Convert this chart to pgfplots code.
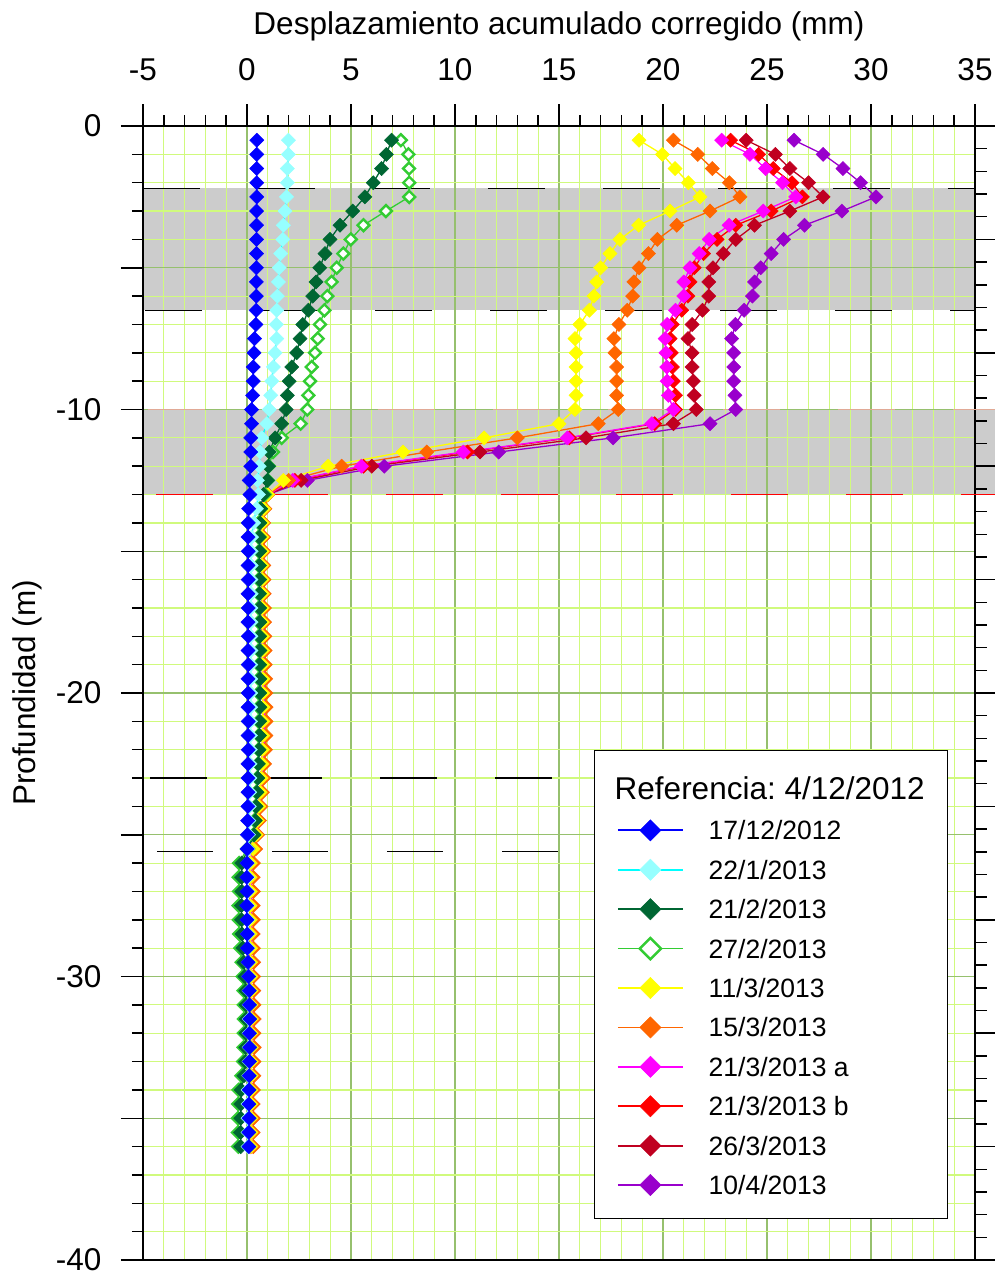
\documentclass[border=0pt]{standalone}
\usepackage{fontspec}
\setmainfont{Liberation Sans}
\usepackage{pgfplots}
\usepackage{pgfplotstable}
\pgfplotsset{compat=1.18}

\definecolor{cBlue}{RGB}{0,0,255}
\definecolor{cCyan}{RGB}{150,255,255}
\definecolor{cCyanL}{RGB}{0,255,255}
\definecolor{cDGreen}{RGB}{0,102,51}
\definecolor{cLGreen}{RGB}{51,204,51}
\definecolor{cYellow}{RGB}{255,255,0}
\definecolor{cOrange}{RGB}{255,102,0}
\definecolor{cMagenta}{RGB}{255,0,255}
\definecolor{cRed}{RGB}{255,0,0}
\definecolor{cDRed}{RGB}{192,0,32}
\definecolor{cPurple}{RGB}{153,0,204}
\definecolor{gridMinor}{RGB}{208,250,125}
\definecolor{gridMajor}{RGB}{150,192,110}
\definecolor{bandGray}{RGB}{204,204,204}
\definecolor{bandTan}{RGB}{225,170,150}

\pgfplotstableread{
d b c dg lg y o m r dr p
-0.5 0.47 1.99 6.95 7.40 18.85 20.50 22.82 23.25 24.00 26.30
-1.0 0.47 1.99 6.70 7.76 19.97 21.67 24.18 24.60 25.40 27.70
-1.5 0.47 1.94 6.47 7.79 20.58 22.37 24.93 25.30 26.10 28.65
-2.0 0.47 1.94 6.07 7.80 21.22 23.19 25.75 26.20 27.00 29.50
-2.5 0.47 1.90 5.67 7.80 21.78 23.70 26.38 26.70 27.70 30.24
-3.0 0.46 1.83 5.08 6.68 20.34 22.26 24.82 25.20 26.10 28.60
-3.5 0.46 1.75 4.47 5.60 18.83 20.66 23.18 23.50 24.40 26.80
-4.0 0.46 1.72 3.99 4.99 17.93 19.73 22.22 22.60 23.50 25.80
-4.5 0.46 1.62 3.75 4.63 17.45 19.30 21.74 21.95 22.90 25.20
-5.0 0.45 1.55 3.50 4.31 17.00 18.85 21.30 21.50 22.40 24.70
-5.5 0.45 1.51 3.32 4.07 16.81 18.60 21.00 21.30 22.20 24.40
-6.0 0.45 1.46 3.16 3.86 16.68 18.54 21.00 21.20 22.20 24.30
-6.5 0.44 1.43 2.95 3.72 16.46 18.28 20.60 20.90 21.90 23.90
-7.0 0.43 1.41 2.68 3.51 16.00 17.88 20.20 20.45 21.40 23.48
-7.5 0.36 1.43 2.55 3.40 15.77 17.64 20.10 20.34 21.20 23.30
-8.0 0.34 1.35 2.39 3.27 15.82 17.69 20.14 20.40 21.40 23.40
-8.5 0.30 1.27 2.15 3.11 15.82 17.77 20.18 20.45 21.40 23.40
-9.0 0.30 1.19 2.03 3.03 15.82 17.77 20.20 20.50 21.46 23.40
-9.5 0.27 1.14 1.94 2.95 15.82 17.77 20.26 20.60 21.50 23.46
-10.0 0.22 1.07 1.88 2.90 15.77 17.85 20.50 20.60 21.60 23.50
-10.5 0.22 0.95 1.67 2.58 15.00 16.89 19.46 19.60 20.50 22.26
-11.0 0.18 0.71 1.35 1.67 11.40 13.00 15.40 15.50 16.30 17.60
-11.5 0.18 0.63 1.07 1.25 7.50 8.64 10.40 10.60 11.20 12.10
-12.0 0.18 0.59 1.03 1.05 3.90 4.55 5.50 5.60 6.00 6.60
-12.5 0.11 0.50 0.98 1.00 1.75 2.00 2.20 2.30 2.60 2.90
-13.0 0.14 0.55 0.79 0.85 1.00 1.00 1.00 1.00 1.00 1.00
-13.5 0.08 0.45 0.66 0.62 0.80 0.86 0.82 0.80 0.78 0.76
-14.0 0.06 0.32 0.62 0.56 0.74 0.80 0.78 0.76 0.74 0.72
-14.5 0.05 0.22 0.60 0.55 0.72 0.80 0.78 0.76 0.73 0.71
-15.0 0.06 0.20 0.61 0.56 0.73 0.82 0.79 0.77 0.74 0.72
-15.5 0.05 0.20 0.60 0.55 0.72 0.81 0.78 0.76 0.73 0.71
-16.0 0.06 0.19 0.61 0.55 0.73 0.82 0.79 0.77 0.74 0.72
-16.5 0.05 0.20 0.60 0.56 0.74 0.83 0.80 0.78 0.75 0.73
-17.0 0.06 0.19 0.61 0.55 0.73 0.84 0.80 0.77 0.75 0.72
-17.5 0.05 0.20 0.62 0.56 0.74 0.85 0.81 0.78 0.76 0.73
-18.0 0.06 0.19 0.61 0.55 0.74 0.86 0.81 0.78 0.76 0.73
-18.5 0.05 0.19 0.62 0.56 0.75 0.87 0.82 0.79 0.77 0.74
-19.0 0.06 0.18 0.61 0.55 0.75 0.88 0.82 0.79 0.77 0.74
-19.5 0.05 0.18 0.62 0.56 0.76 0.90 0.83 0.80 0.78 0.75
-20.0 0.06 0.18 0.61 0.55 0.76 0.91 0.83 0.80 0.78 0.75
-20.5 0.05 0.18 0.62 0.56 0.77 0.92 0.84 0.81 0.79 0.76
-21.0 0.06 0.17 0.61 0.55 0.76 0.92 0.84 0.81 0.78 0.76
-21.5 0.05 0.17 0.60 0.55 0.76 0.91 0.83 0.80 0.78 0.75
-22.0 0.06 0.16 0.58 0.54 0.74 0.89 0.82 0.79 0.77 0.74
-22.5 0.05 0.15 0.55 0.52 0.72 0.85 0.79 0.77 0.75 0.72
-23.0 0.05 0.14 0.52 0.48 0.68 0.80 0.75 0.73 0.71 0.69
-23.5 0.05 0.13 0.48 0.44 0.63 0.74 0.69 0.67 0.65 0.63
-24.0 0.04 0.11 0.44 0.40 0.57 0.67 0.62 0.60 0.58 0.56
-24.5 0.03 0.09 0.40 0.35 0.50 0.60 0.55 0.53 0.51 0.50
-25.0 0.02 0.07 0.34 0.30 0.44 0.52 0.48 0.46 0.44 0.42
-25.5 0.01 0.04 0.05 0.00 0.30 0.42 0.34 0.32 0.30 0.28
-26.0 0.00 0.02 -0.25 -0.38 0.16 0.31 0.21 0.19 0.16 0.15
-26.5 -0.01 0.02 -0.26 -0.40 0.15 0.30 0.20 0.18 0.15 0.14
-27.0 0.00 0.03 -0.25 -0.38 0.16 0.31 0.21 0.19 0.16 0.15
-27.5 -0.01 0.02 -0.27 -0.40 0.15 0.30 0.20 0.18 0.15 0.14
-28.0 0.00 0.03 -0.26 -0.39 0.16 0.31 0.21 0.19 0.16 0.15
-28.5 0.01 0.03 -0.24 -0.37 0.16 0.30 0.20 0.18 0.16 0.15
-29.0 0.02 0.04 -0.20 -0.32 0.17 0.31 0.21 0.19 0.17 0.16
-29.5 0.05 0.06 -0.15 -0.25 0.18 0.32 0.21 0.19 0.17 0.16
-30.0 0.08 0.08 -0.10 -0.20 0.19 0.32 0.21 0.20 0.18 0.17
-30.5 0.11 0.10 -0.06 -0.16 0.20 0.33 0.21 0.20 0.18 0.17
-31.0 0.12 0.10 -0.05 -0.15 0.20 0.34 0.22 0.21 0.19 0.18
-31.5 0.13 0.11 -0.04 -0.14 0.21 0.35 0.22 0.21 0.19 0.18
-32.0 0.12 0.10 -0.05 -0.15 0.20 0.34 0.22 0.21 0.19 0.18
-32.5 0.13 0.11 -0.06 -0.16 0.21 0.35 0.22 0.21 0.19 0.18
-33.0 0.12 0.10 -0.08 -0.18 0.20 0.34 0.21 0.20 0.18 0.17
-33.5 0.11 0.09 -0.15 -0.26 0.20 0.33 0.21 0.20 0.18 0.17
-34.0 0.10 0.06 -0.28 -0.40 0.19 0.31 0.20 0.19 0.17 0.16
-34.5 0.09 0.05 -0.30 -0.42 0.19 0.30 0.20 0.19 0.17 0.16
-35.0 0.10 0.05 -0.30 -0.43 0.19 0.31 0.20 0.19 0.17 0.16
-35.5 0.09 0.05 -0.31 -0.43 0.19 0.30 0.20 0.19 0.17 0.16
-36.0 0.09 0.05 -0.30 -0.42 0.19 0.30 0.20 0.19 0.17 0.16
}\prof

\newcommand{\fA}{\fontsize{31.5}{31.5}\selectfont}
\newcommand{\fL}{\fontsize{26.5}{26.5}\selectfont}

\pgfplotsset{
  ser/.style={color=#1, line width=1.3pt, mark=square*, mark size=5pt,
     mark options={solid, rotate=45, fill=#1, draw=#1, line width=0.5pt}},
}

\begin{document}
\begin{tikzpicture}
\pgfplotsset{set layers}
\begin{axis}[
  at={(0pt,0pt)}, anchor=south west,
  scale only axis, width=832pt, height=1134pt,
  xmin=-5, xmax=35, ymin=-40, ymax=0,
  clip=false,
  xtick={-5,0,...,35}, xticklabels={-5,0,5,10,15,20,25,30,35},
  minor x tick num=4,
  ytick={0,-5,...,-40}, yticklabels={0,,-10,,-20,,-30,,-40},
  minor y tick num=4,
  xtick pos=right, xticklabel pos=right,
  ytick pos=left, yticklabel pos=left,
  xticklabel shift=20pt, yticklabel shift=16pt,
  tick align=outside,
  major tick length=22pt, minor tick length=11pt,
  tick style={black, line width=1.5pt},
  axis line style={black, line width=2pt},
  grid=both,
  major grid style={gridMajor, line width=1.2pt},
  minor grid style={gridMinor, line width=1.2pt},
  tick label style={font=\fA},
  label style={font=\fA},
  xlabel={Desplazamiento acumulado corregido (mm)},
  xlabel style={at={(axis description cs:0.5,1.0744)}, anchor=south, inner sep=0pt},
  ylabel={Profundidad (m)},
  ylabel style={at={(axis description cs:-0.1214,0.5)}, anchor=south, inner sep=0pt, rotate=0},
  reverse legend,
  legend cell align=left,
  legend style={at={(0.5421,0.4497)}, anchor=north west, draw=black, line width=1pt, fill=white,
     font=\fL, inner xsep=22.5pt, inner ysep=23pt, row sep=18.2pt,
     nodes={inner sep=0pt, text height=19pt, text depth=0pt},
     /tikz/every odd column/.append style={column sep=25pt}},
  legend image code/.code={\draw[mark repeat=2, mark phase=2, #1] plot coordinates {(0pt,0pt) (32.5pt,0pt) (65pt,0pt)};},
  legend image post style={mark size=7.5pt, line width=1.7pt},
]
% bands
\addplot[forget plot, on layer=axis background, fill=bandGray, draw=none] coordinates {(-5,-2.2) (35,-2.2) (35,-6.5) (-5,-6.5)};
\addplot[forget plot, on layer=axis background, fill=bandGray, draw=none] coordinates {(-5,-10) (35.96,-10) (35.96,-13) (-5,-13)};
\addplot[forget plot, black, line width=1.5pt, dash pattern=on 57pt off 58pt, dash phase=0pt] coordinates {(-5,-2.2) (35,-2.2)};
\addplot[forget plot, black, line width=1.5pt, dash pattern=on 57pt off 58pt, dash phase=113pt] coordinates {(-5,-6.5) (35,-6.5)};
\addplot[forget plot, bandTan, line width=1.5pt, dash pattern=on 57pt off 58pt, dash phase=110pt] coordinates {(-5,-10) (35.96,-10)};
\addplot[forget plot, cRed, line width=1.5pt, dash pattern=on 57pt off 58pt, dash phase=102pt] coordinates {(-5,-13) (35.96,-13)};
\addplot[forget plot, black, line width=1.3pt, dash pattern=on 57pt off 58pt, dash phase=108pt] coordinates {(-5,-23) (15,-23)};
\addplot[forget plot, black, line width=1.3pt, dash pattern=on 56pt off 59pt, dash phase=101pt] coordinates {(-5,-25.6) (15,-25.6)};
% series (reverse order so that the first one is on top)
\addplot[ser=cPurple] table[x=p, y=d] {\prof};
\addlegendentry{10/4/2013}
\addplot[ser=cDRed] table[x=dr, y=d] {\prof};
\addlegendentry{26/3/2013}
\addplot[ser=cRed] table[x=r, y=d] {\prof};
\addlegendentry{21/3/2013 b}
\addplot[ser=cMagenta] table[x=m, y=d] {\prof};
\addlegendentry{21/3/2013 a}
\addplot[ser=cOrange] table[x=o, y=d] {\prof};
\addlegendentry{15/3/2013}
\addplot[ser=cYellow] table[x=y, y=d] {\prof};
\addlegendentry{11/3/2013}
\addplot[ser=cLGreen, mark size=4.2pt, mark options={solid, rotate=45, fill=white, draw=cLGreen, line width=2.4pt}] table[x=lg, y=d] {\prof};
\addlegendentry{27/2/2013}
\addplot[ser=cDGreen] table[x=dg, y=d] {\prof};
\addlegendentry{21/2/2013}
\addplot[ser=cCyan, color=cCyanL, mark options={solid, rotate=45, fill=cCyan, draw=cCyan, line width=0.5pt}] table[x=c, y=d] {\prof};
\addlegendentry{22/1/2013}
\addplot[ser=cBlue] table[x=b, y=d] {\prof};
\addlegendentry{17/12/2012}
\addlegendimage{empty legend}
\addlegendentry[font=\fA, text height=26pt, text depth=2pt]{\hspace*{-94pt}Referencia:\ 4/12/2012}
\end{axis}
\begin{axis}[
  at={(0pt,0pt)}, anchor=south west,
  scale only axis, width=832pt, height=1134pt,
  xmin=0, xmax=30, ymin=-50, ymax=0,
  axis line style={draw=none},
  xtick=\empty, minor xtick={0,1,...,30},
  ytick={0,-5,...,-50}, minor y tick num=4,
  yticklabels={},
  xtick pos=left, ytick pos=right,
  tick align=outside,
  major tick length=20pt, minor tick length=11.5pt,
  tick style={black, line width=1.5pt},
]
\end{axis}
\pgfresetboundingbox
\path (-143pt,-19pt) rectangle (852pt,1260pt);
\end{tikzpicture}
\end{document}
